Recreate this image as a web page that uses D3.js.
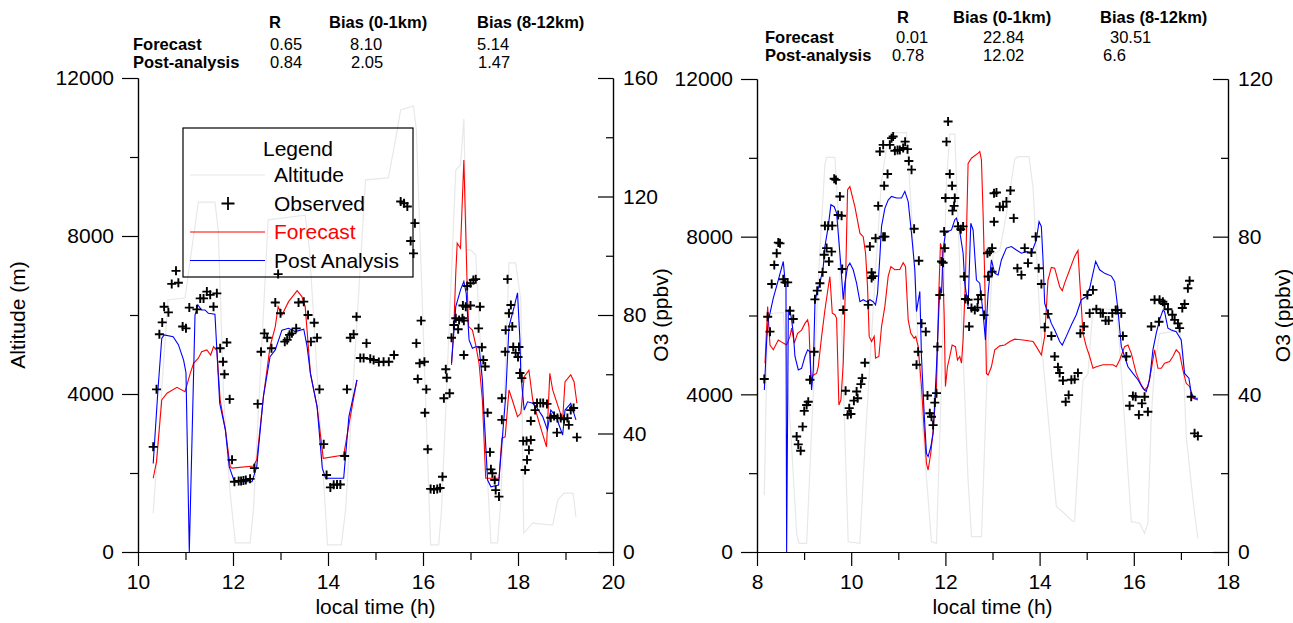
<!DOCTYPE html>
<html>
<head>
<meta charset="utf-8">
<script src="https://cdn.jsdelivr.net/npm/d3@7"></script>
<style>
  body { margin: 0; background: #fff; }
  svg text { font-family: "Liberation Sans", Arial, Helvetica, sans-serif; }
</style>
</head>
<body>
<svg id="chart" width="1293" height="623"></svg>
<script>
// ---- tick values ----
const altMajor = [0, 4000, 8000, 12000];
const altMinor = [2000, 6000, 10000];
const leftTimeMajor = [10, 12, 14, 16, 18, 20];
const leftTimeMinor = [11, 13, 15, 17, 19];
const rightTimeMajor = [8, 10, 12, 14, 16, 18];
const rightTimeMinor = [9, 11, 13, 15, 17];
const leftO3Major = [0, 40, 80, 120, 160];
const leftO3Minor = [20, 60, 100, 140];
const rightO3Major = [0, 40, 80, 120];
const rightO3Minor = [20, 60, 100];

// ---- statistics ----
const statHeaders = ["R", "Bias (0-1km)", "Bias (8-12km)"];
const statRows = ["Forecast", "Post-analysis"];
const leftStats = [["0.65", "8.10", "5.14"], ["0.84", "2.05", "1.47"]];
const rightStats = [["0.01", "22.84", "30.51"], ["0.78", "12.02", "6.6"]];

// ---- left flight: [local time (h), value] ----
const leftAltitude = [[10.32,980],[10.63,6380],[10.99,6430],[11.10,7390],[11.27,8860],[11.62,8860],[11.69,8150],[11.80,4020],[11.87,2670],[11.94,1490],[12.05,230],[12.36,230],[12.43,1060],[12.74,8410],[13.52,8530],[13.61,7650],[13.99,180],[14.28,180],[14.37,1060],[14.79,9420],[15.27,9470],[15.42,10430],[15.53,11190],[15.80,11290],[15.86,10690],[16.16,180],[16.33,180],[16.39,1060],[16.69,9670],[16.79,9800],[16.86,10960],[16.92,7650],[17.00,7650],[17.11,7520],[17.43,230],[17.57,230],[17.64,1320],[17.81,7320],[17.95,7320],[18.06,6380],[18.12,480],[18.31,730],[18.73,680],[18.84,1320],[18.97,1490],[19.16,1490],[19.22,890]];

const leftObserved = [[10.32,35.5],[10.39,54.9],[10.45,73.5],[10.51,77.5],[10.55,82.8],[10.64,80.9],[10.71,90.5],[10.80,94.9],[10.85,90.9],[10.94,76.1],[11.01,75.5],[11.08,82.5],[11.24,81.9],[11.31,85.6],[11.38,85.6],[11.45,87.9],[11.52,86.8],[11.59,82.8],[11.66,87.3],[11.73,68.8],[11.79,64.2],[11.82,60.0],[11.87,70.7],[11.93,51.6],[11.98,31.1],[12.03,23.7],[12.12,24.0],[12.17,24.0],[12.22,24.1],[12.27,24.3],[12.36,24.7],[12.45,28.3],[12.52,50.0],[12.59,67.6],[12.66,73.8],[12.72,72.3],[12.81,68.8],[12.89,84.2],[12.95,93.8],[13.00,80.6],[13.09,71.0],[13.14,71.6],[13.19,73.3],[13.24,73.8],[13.33,75.5],[13.38,84.2],[13.49,84.5],[13.58,80.0],[13.64,71.0],[13.71,77.4],[13.77,72.3],[13.82,54.9],[13.91,36.4],[13.97,26.0],[14.05,21.8],[14.12,22.7],[14.19,22.8],[14.26,22.8],[14.35,32.4],[14.40,54.9],[14.47,72.3],[14.54,73.5],[14.60,79.4],[14.81,70.5],[14.68,65.5],[14.75,65.5],[14.89,65.2],[14.96,64.8],[15.07,64.1],[15.17,64.2],[15.28,64.2],[15.39,66.5],[15.53,118.3],[15.60,117.7],[15.67,116.6],[15.83,111.0],[15.74,105.0],[15.80,100.8],[15.96,78.1],[15.86,70.5],[15.93,63.7],[16.03,64.2],[15.89,58.4],[16.07,54.9],[16.04,47.0],[16.10,34.7],[16.16,21.3],[16.23,21.1],[16.30,21.3],[16.36,21.6],[16.41,25.4],[16.44,51.9],[16.50,58.8],[16.48,61.7],[16.56,53.6],[16.60,72.3],[16.65,76.6],[16.69,78.9],[16.76,78.3],[16.83,78.9],[16.86,78.1],[16.74,75.2],[16.84,83.2],[16.90,82.8],[17.00,83.2],[16.86,66.5],[16.93,89.8],[17.00,90.7],[17.06,91.8],[17.11,92.1],[17.17,75.5],[17.20,82.8],[17.24,69.1],[17.27,64.8],[17.31,62.6],[17.36,47.0],[17.41,33.7],[17.43,27.9],[17.46,26.6],[17.51,24.3],[17.53,20.9],[17.60,18.7],[17.66,51.9],[17.66,44.6],[17.73,67.6],[17.74,74.9],[17.78,92.1],[17.81,80.6],[17.85,83.4],[17.88,76.1],[17.90,69.2],[17.95,67.2],[18.02,69.2],[18.00,65.8],[18.04,60.4],[18.08,58.7],[18.11,37.5],[18.18,37.5],[18.23,34.4],[18.19,31.1],[18.15,27.7],[18.27,37.8],[18.27,44.2],[18.36,47.9],[18.40,50.3],[18.47,50.3],[18.53,50.3],[18.61,50.0],[18.69,45.3],[18.76,45.9],[18.83,45.2],[18.90,45.2],[18.97,44.8],[19.04,45.2],[18.82,40.3],[19.07,42.9],[19.11,47.9],[19.17,48.6],[19.24,38.7]];

// null breaks the line (no model output in the gap)
const leftForecast = [[10.32,24.9],[10.39,30.5],[10.50,51.3],[10.61,53.6],[10.82,55.6],[10.99,54.1],[11.10,60.3],[11.17,63.7],[11.27,65.4],[11.34,67.6],[11.45,68.2],[11.53,66.5],[11.59,69.3],[11.66,68.0],[11.73,51.3],[11.84,41.2],[11.94,28.8],[11.98,28.3],[12.43,29.0],[12.50,31.1],[12.64,52.4],[12.78,69.3],[12.89,76.1],[12.95,82.8],[13.03,80.0],[13.17,84.5],[13.35,88.2],[13.45,86.2],[13.52,82.8],[13.63,60.3],[13.77,49.1],[13.90,31.6],[14.33,32.7],[14.47,45.7],[14.61,58.1],
  [15.5,null],
  [16.60,63.1],[16.65,76.1],[16.69,94.1],[16.72,104.2],[16.79,102.5],[16.86,132.3],[16.93,89.6],[16.96,76.1],[17.04,74.9],[17.11,69.9],[17.18,63.7],[17.25,51.3],[17.32,24.9],[17.60,24.9],[17.66,38.4],[17.73,38.9],[17.81,54.7],[17.88,51.3],[17.99,45.7],[18.06,46.8],[18.13,59.2],[18.23,61.4],[18.31,51.3],[18.45,43.4],[18.60,35.5],[18.67,60.3],[18.73,54.7],[18.87,47.9],[18.94,44.6],[18.99,57.5],[19.11,59.8],[19.18,57.5],[19.24,50.2]];

const leftPostAnalysis = [[10.32,29.9],[10.42,54.7],[10.50,72.1],[10.55,73.3],[10.74,72.7],[10.85,70.0],[10.96,64.8],[11.01,60.5],[11.08,0],[11.20,80.0],[11.26,83.4],[11.34,81.7],[11.41,81.7],[11.48,80.6],[11.62,80.3],[11.72,50.2],[11.84,41.2],[11.92,28.8],[12.03,23.7],[12.40,23.7],[12.50,28.8],[12.64,52.4],[12.78,65.9],[12.89,68.2],[13.03,74.9],[13.17,75.5],[13.31,74.4],[13.49,75.2],[13.56,69.3],[13.63,60.3],[13.77,49.1],[13.88,28.3],[13.95,24.9],[14.33,24.9],[14.44,45.7],[14.61,58.1],
  [15.5,null],
  [16.60,63.7],[16.69,82.8],[16.79,88.5],[16.86,91.3],[16.91,87.3],[16.97,71.6],[17.04,68.8],[17.11,69.3],[17.18,69.3],[17.25,58.1],[17.28,47.9],[17.36,24.3],[17.43,22.0],[17.59,22.6],[17.67,38.4],[17.74,52.4],[17.81,76.1],[17.92,82.8],[17.99,87.5],[18.04,71.6],[18.06,60.3],[18.13,47.9],[18.20,50.7],[18.31,50.2],[18.38,49.1],[18.52,45.7],[18.62,41.2],[18.69,47.9],[18.80,45.7],[18.94,39.5],[18.99,47.9],[19.11,50.2],[19.22,44.6]];

// ---- right flight ----
const rightAltitude = [[8.155,1440],[8.227,6040],[8.558,6080],[8.736,2670],[8.842,470],[8.891,220],[9.054,220],[9.160,3090],[9.300,6890],[9.442,9840],[9.478,10010],[9.654,10010],[9.724,8580],[9.830,4350],[9.936,260],[10.185,220],[10.291,2670],[10.503,6890],[10.645,9420],[10.751,10260],[10.857,10640],[11.175,10640],[11.281,8580],[11.493,3510],[11.705,260],[11.811,220],[11.917,4350],[12.023,9420],[12.093,10600],[12.199,10600],[12.342,6040],[12.481,1820],[12.554,390],[12.766,390],[12.906,5200],[13.012,7560],[13.154,7650],[13.296,8580],[13.472,9970],[13.542,10030],[13.775,10030],[13.860,9250],[14.002,6040],[14.072,4860],[14.356,1150],[14.469,1040],[14.708,770],[14.744,790],[14.808,2080],[14.920,4350],[15.027,4520],[15.133,6210],[15.635,6130],[15.698,5200],[15.947,770],[16.123,730],[16.229,470],[16.299,730],[16.371,3430],[16.441,4690],[16.547,5540],[16.971,5620],[17.041,5110],[17.114,2920],[17.219,1740],[17.290,980],[17.360,350]];

const rightObserved = [[8.155,43.9],[8.227,59.7],[8.276,55.9],[8.312,68.0],[8.367,72.8],[8.418,75.8],[8.452,78.5],[8.488,78.3],[8.558,69.2],[8.594,68.4],[8.651,68.4],[8.700,61.2],[8.770,59.1],[8.842,29.3],[8.876,27.3],[8.927,25.7],[8.969,31.8],[9.003,35.8],[9.054,37.3],[9.088,38.1],[9.124,43.7],[9.215,50.8],[9.230,64.1],[9.279,66.3],[9.336,68.2],[9.393,71.0],[9.427,75.4],[9.478,77.1],[9.527,73.7],[9.584,76.2],[9.442,82.8],[9.512,82.8],[9.597,82.8],[9.639,94.7],[9.676,94.4],[9.760,90.2],[9.724,85.5],[9.796,85.3],[9.809,71.8],[9.830,61.4],[9.881,40.9],[9.958,36.5],[9.924,34.8],[9.994,35.0],[10.057,38.4],[10.115,40.7],[10.136,39.0],[10.206,42.6],[10.233,44.1],[10.291,48.0],[10.361,62.7],[10.397,77.5],[10.433,70.9],[10.467,70.0],[10.433,69.5],[10.518,79.6],[10.573,87.8],[10.679,80.0],[10.715,80.0],[10.700,92.9],[10.772,95.9],[10.609,101.6],[10.679,103.3],[10.821,103.3],[10.857,105.0],[10.891,105.4],[10.927,101.8],[10.984,102.0],[11.033,102.0],[11.103,102.5],[11.145,104.1],[11.196,102.2],[11.224,99.2],[11.281,97.0],[11.336,82.0],[11.436,73.9],[11.493,58.0],[11.584,55.9],[11.421,50.8],[11.387,47.5],[11.620,39.7],[11.669,35.2],[11.705,34.3],[11.739,32.2],[11.775,37.9],[11.811,40.3],[11.832,52.1],[11.881,65.2],[11.917,73.7],[11.951,73.4],[11.973,81.3],[11.987,77.1],[12.023,104.1],[12.057,109.2],[12.002,89.8],[12.093,95.9],[12.142,92.9],[12.199,89.8],[12.185,87.8],[12.151,86.6],[12.269,82.6],[12.327,81.9],[12.376,82.6],[12.397,69.9],[12.426,64.2],[12.481,64.0],[12.503,57.2],[12.554,61.9],[12.624,61.4],[12.681,62.0],[12.694,64.1],[12.751,65.2],[12.821,60.1],[12.893,75.8],[12.942,76.2],[12.991,77.1],[12.906,69.9],[12.991,71.1],[13.033,91.0],[13.033,83.8],[13.084,91.2],[13.154,87.6],[13.224,87.6],[13.296,88.9],[13.381,91.7],[13.451,84.7],[13.529,72.0],[13.614,70.3],[13.684,77.1],[13.754,73.3],[13.826,76.0],[13.917,80.0],[13.981,72.0],[14.038,68.0],[14.178,60.4],[14.108,57.0],[14.250,54.8],[14.320,49.6],[14.390,46.9],[14.426,45.4],[14.496,43.5],[14.554,38.1],[14.617,39.8],[14.674,43.7],[14.744,43.8],[14.814,45.4],[14.865,55.5],[14.942,57.2],[15.014,65.2],[15.133,66.5],[15.063,60.6],[15.205,61.6],[15.296,60.6],[15.345,60.6],[15.402,58.7],[15.466,58.7],[15.544,60.6],[15.614,61.4],[15.650,61.4],[15.735,60.6],[15.769,54.8],[15.841,49.6],[15.911,37.1],[15.981,39.6],[16.038,39.4],[16.229,39.4],[16.108,34.8],[16.172,37.7],[16.299,35.6],[16.371,57.2],[16.441,64.0],[16.547,64.0],[16.617,63.5],[16.653,62.9],[16.535,58.4],[16.725,61.6],[16.818,60.2],[16.867,58.9],[16.937,58.0],[16.973,56.8],[17.030,61.9],[17.078,62.9],[17.148,66.9],[17.184,68.8],[17.219,39.4],[17.290,30.1],[17.360,29.4]];

const rightForecast = [[8.170,47.9],[8.226,62.3],[8.276,52.5],[8.346,51.3],[8.452,53.8],[8.558,53.0],[8.629,52.5],[8.700,54.7],[8.735,56.8],[8.792,53.0],[8.862,55.5],[8.947,56.3],[9.018,58.0],[9.075,58.9],[9.103,57.2],[9.145,43.7],[9.195,44.9],[9.265,45.3],[9.301,47.0],[9.372,54.7],[9.442,61.4],[9.513,67.3],[9.548,69.9],[9.598,60.6],[9.654,60.2],[9.690,59.3],[9.739,37.3],[9.782,38.6],[9.831,47.9],[9.881,69.0],[9.923,91.9],[9.972,92.7],[10.078,87.6],[10.185,80.9],[10.255,80.0],[10.305,75.8],[10.347,67.3],[10.382,54.7],[10.432,53.4],[10.488,54.7],[10.517,49.2],[10.587,49.6],[10.644,57.2],[10.715,62.3],[10.785,69.9],[10.842,72.4],[10.927,71.6],[11.033,71.7],[11.104,73.4],[11.153,72.4],[11.210,58.9],[11.266,55.5],[11.337,54.2],[11.372,54.7],[11.422,52.1],[11.492,42.0],[11.549,31.0],[11.598,22.5],[11.633,20.8],[11.690,25.0],[11.740,31.0],[11.811,42.0],[11.860,65.6],[11.895,78.3],[11.931,76.6],[11.973,60.6],[12.001,42.0],[12.044,47.0],[12.093,49.6],[12.143,52.5],[12.214,52.1],[12.256,48.7],[12.305,49.6],[12.341,47.9],[12.376,53.8],[12.425,69.0],[12.482,98.6],[12.553,99.9],[12.694,101.2],[12.730,101.6],[12.765,99.5],[12.800,86.0],[12.836,69.0],[12.871,45.3],[12.907,44.9],[12.977,47.0],[13.048,51.3],[13.154,52.3],[13.260,52.5],[13.366,53.4],[13.472,54.0],[13.649,53.8],[13.861,53.4],[13.931,52.1],[14.037,50.0],[14.108,54.7],[14.178,69.0],[14.249,72.2],[14.320,72.0],[14.426,67.3],[14.482,66.3],[14.532,68.2],[14.638,71.6],[14.744,75.0],[14.815,76.5],[14.851,69.0],[14.921,55.5],[14.992,52.1],[15.063,49.6],[15.133,46.6],[15.204,47.0],[15.346,47.5],[15.558,47.5],[15.628,47.0],[15.699,48.7],[15.805,52.1],[15.876,52.5],[15.947,50.4],[16.052,45.3],[16.158,42.4],[16.229,41.1],[16.300,42.0],[16.371,46.2],[16.441,51.3],[16.512,46.6],[16.583,46.6],[16.654,47.9],[16.760,48.3],[16.830,49.6],[16.901,51.3],[16.972,50.4],[17.042,46.2],[17.113,42.8],[17.184,42.0],[17.254,39.0],[17.360,38.6]];

const rightPostAnalysis = [[8.156,41.1],[8.205,53.8],[8.240,58.9],[8.276,60.6],[8.346,64.4],[8.452,69.0],[8.558,73.7],[8.594,69.0],[8.615,68.2],[8.629,0],[8.665,61.4],[8.700,61.4],[8.735,58.9],[8.771,55.5],[8.806,49.6],[8.877,46.2],[8.947,46.6],[9.018,49.6],[9.075,51.3],[9.124,50.8],[9.159,41.1],[9.195,46.2],[9.230,63.1],[9.265,65.6],[9.336,68.2],[9.407,72.4],[9.442,77.5],[9.513,82.6],[9.569,88.1],[9.640,87.6],[9.690,86.0],[9.725,80.9],[9.782,72.4],[9.831,64.0],[9.866,68.2],[9.923,72.4],[9.972,73.3],[10.043,71.6],[10.114,68.2],[10.185,63.5],[10.255,64.0],[10.326,63.5],[10.397,64.0],[10.467,63.5],[10.517,62.7],[10.559,65.6],[10.609,75.0],[10.644,82.6],[10.715,87.2],[10.785,89.3],[10.856,90.2],[10.962,89.8],[11.068,89.8],[11.139,91.5],[11.210,88.9],[11.280,80.9],[11.351,71.6],[11.386,61.0],[11.457,66.1],[11.492,49.6],[11.549,35.2],[11.598,25.0],[11.633,24.2],[11.690,26.7],[11.740,30.1],[11.811,47.0],[11.881,67.3],[11.917,65.6],[11.952,76.6],[12.001,80.9],[12.058,81.3],[12.129,81.7],[12.199,84.3],[12.235,84.7],[12.305,81.3],[12.376,75.8],[12.411,68.2],[12.482,62.3],[12.539,83.4],[12.588,81.7],[12.659,69.0],[12.729,68.2],[12.800,60.6],[12.850,53.8],[12.906,65.6],[12.977,74.1],[13.048,70.7],[13.119,70.3],[13.189,74.1],[13.295,77.1],[13.401,77.5],[13.507,76.6],[13.613,75.8],[13.719,76.2],[13.825,75.8],[13.931,79.2],[13.988,83.8],[14.037,82.6],[14.073,74.1],[14.108,63.1],[14.178,60.6],[14.249,58.0],[14.320,56.3],[14.426,53.4],[14.482,52.5],[14.567,54.7],[14.673,57.6],[14.779,60.2],[14.885,64.0],[14.992,64.8],[15.063,66.9],[15.133,70.7],[15.190,73.7],[15.275,71.6],[15.381,70.7],[15.523,70.0],[15.593,68.6],[15.664,61.4],[15.735,52.1],[15.805,49.6],[15.876,47.0],[15.982,45.3],[16.088,43.7],[16.194,41.5],[16.264,40.7],[16.335,43.7],[16.406,51.3],[16.477,55.5],[16.547,58.9],[16.618,61.3],[16.653,61.0],[16.724,56.8],[16.795,56.3],[16.901,55.9],[17.007,53.8],[17.078,45.3],[17.170,44.1],[17.219,40.3],[17.290,39.0],[17.360,39.0]];

// ---- layout ----
const svg = d3.select("#chart");
const FONT = 21;
const ALT_GREY = "#e8e8e8";

const panels = [
  {
    left: 138, right: 613, top: 78, bottom: 552,
    xDomain: [10, 20], o3Domain: [0, 160],
    timeMajor: leftTimeMajor, timeMinor: leftTimeMinor,
    o3Major: leftO3Major, o3Minor: leftO3Minor,
    altitude: leftAltitude, observed: leftObserved,
    forecast: leftForecast, post: leftPostAnalysis,
    stats: leftStats,
    statPos: { labelX: 133, headerX: [269, 329, 477], cellX: [[270, 350, 477], [270, 351, 478]], rowY: [28, 50, 68] },
    altLabel: true, legend: true, o3LabelX: 661
  },
  {
    left: 757, right: 1228, top: 79, bottom: 552,
    xDomain: [8, 18], o3Domain: [0, 120],
    timeMajor: rightTimeMajor, timeMinor: rightTimeMinor,
    o3Major: rightO3Major, o3Minor: rightO3Minor,
    altitude: rightAltitude, observed: rightObserved,
    forecast: rightForecast, post: rightPostAnalysis,
    stats: rightStats,
    statPos: { labelX: 765, headerX: [897, 953, 1100], cellX: [[896, 983, 1110], [892, 983, 1103]], rowY: [23, 43, 61] },
    altLabel: false, legend: false, o3LabelX: 1283
  }
];

const plusPath = s => `M${-s},0H${s}M0,${-s}V${s}`;

function styleAxis(g) {
  g.attr("font-size", FONT).attr("font-family", null);
  g.selectAll(".domain").attr("stroke", "#000").attr("stroke-width", 1.2);
  g.selectAll(".tick line").attr("stroke", "#000").attr("stroke-width", 1.2);
  g.selectAll(".tick text").attr("fill", "#000");
}

function drawPanel(p) {
  const x = d3.scaleLinear().domain(p.xDomain).range([p.left, p.right]);
  const yAlt = d3.scaleLinear().domain([0, 12000]).range([p.bottom, p.top]);
  const yO3 = d3.scaleLinear().domain(p.o3Domain).range([p.bottom, p.top]);
  const g = svg.append("g");

  // Altitude (light grey, left axis)
  g.append("path")
    .datum(p.altitude)
    .attr("d", d3.line().x(d => x(d[0])).y(d => yAlt(d[1])))
    .attr("fill", "none")
    .attr("stroke", ALT_GREY)
    .attr("stroke-width", 1.2);

  const o3Line = d3.line()
    .defined(d => d[1] != null)
    .x(d => x(d[0]))
    .y(d => yO3(d[1]));

  g.append("path").datum(p.forecast).attr("d", o3Line)
    .attr("fill", "none").attr("stroke", "#ff0000").attr("stroke-width", 1.1);
  g.append("path").datum(p.post).attr("d", o3Line)
    .attr("fill", "none").attr("stroke", "#0000ff").attr("stroke-width", 1.1);

  // Observed crosses
  g.selectAll(".obs").data(p.observed).enter().append("path")
    .attr("class", "obs")
    .attr("transform", d => `translate(${x(d[0])},${yO3(d[1])})`)
    .attr("d", plusPath(4.5))
    .attr("stroke", "#000")
    .attr("stroke-width", 1.9)
    .attr("fill", "none");

  // Axes
  const fmt = d3.format("d");
  g.append("g").attr("transform", `translate(${p.left},0)`)
    .call(d3.axisLeft(yAlt).tickValues(altMinor).tickSize(8).tickSizeOuter(0).tickFormat(""))
    .call(styleAxis);
  g.append("g").attr("transform", `translate(${p.left},0)`)
    .call(d3.axisLeft(yAlt).tickValues(altMajor).tickSize(16).tickPadding(8).tickSizeOuter(0).tickFormat(fmt))
    .call(styleAxis);

  g.append("g").attr("transform", `translate(${p.right},0)`)
    .call(d3.axisRight(yO3).tickValues(p.o3Minor).tickSize(-7).tickSizeOuter(0).tickFormat(""))
    .call(styleAxis);
  g.append("g").attr("transform", `translate(${p.right},0)`)
    .call(d3.axisRight(yO3).tickValues(p.o3Major).tickSize(-15).tickPadding(10).tickSizeOuter(0).tickFormat(fmt))
    .call(styleAxis);

  g.append("g").attr("transform", `translate(0,${p.bottom})`)
    .call(d3.axisBottom(x).tickValues(p.timeMinor).tickSize(8).tickSizeOuter(0).tickFormat(""))
    .call(styleAxis);
  g.append("g").attr("transform", `translate(0,${p.bottom})`)
    .call(d3.axisBottom(x).tickValues(p.timeMajor).tickSize(14).tickPadding(8).tickSizeOuter(0).tickFormat(fmt))
    .call(styleAxis);

  // Axis titles
  const midY = (p.top + p.bottom) / 2;
  g.append("text")
    .attr("x", (p.left + p.right) / 2).attr("y", 614)
    .attr("text-anchor", "middle").attr("font-size", FONT)
    .text("local time (h)");
  g.append("text")
    .attr("transform", `translate(${p.o3LabelX},${midY}) rotate(-90)`)
    .attr("text-anchor", "middle").attr("dy", "0.35em").attr("font-size", FONT)
    .text("O3 (ppbv)");
  if (p.altLabel) {
    g.append("text")
      .attr("transform", `translate(18,${midY}) rotate(-90)`)
      .attr("text-anchor", "middle").attr("dy", "0.35em").attr("font-size", FONT)
      .text("Altitude (m)");
  }

  // Statistics table
  const sp = p.statPos;
  const st = g.append("g").attr("font-size", 16.5);
  statHeaders.forEach((h, i) => {
    st.append("text").attr("x", sp.headerX[i]).attr("y", sp.rowY[0])
      .attr("font-weight", "bold").text(h);
  });
  statRows.forEach((r, j) => {
    st.append("text").attr("x", sp.labelX).attr("y", sp.rowY[j + 1])
      .attr("font-weight", "bold").text(r);
    p.stats[j].forEach((v, i) => {
      st.append("text").attr("x", sp.cellX[j][i]).attr("y", sp.rowY[j + 1]).text(v);
    });
  });

  if (p.legend) drawLegend(g);
}

function drawLegend(g) {
  const lg = g.append("g");
  lg.append("rect")
    .attr("x", 183).attr("y", 128).attr("width", 230).attr("height", 149)
    .attr("fill", "none").attr("stroke", "#000").attr("stroke-width", 1.2);
  lg.append("text").attr("x", 298).attr("y", 156)
    .attr("text-anchor", "middle").attr("font-size", FONT).text("Legend");

  const items = [
    { name: "Altitude", color: ALT_GREY, text: "#000", type: "line" },
    { name: "Observed", color: "#000", text: "#000", type: "plus" },
    { name: "Forecast", color: "#ff0000", text: "#ff0000", type: "line" },
    { name: "Post Analysis", color: "#0000ff", text: "#000", type: "line" }
  ];
  items.forEach((it, i) => {
    const cy = 175 + i * 28.5;
    if (it.type === "line") {
      lg.append("line").attr("x1", 190).attr("x2", 265).attr("y1", cy).attr("y2", cy)
        .attr("stroke", it.color).attr("stroke-width", 1.2);
    } else {
      lg.append("path").attr("transform", `translate(228,${cy})`)
        .attr("d", plusPath(6.5)).attr("stroke", it.color).attr("stroke-width", 1.8);
    }
    lg.append("text").attr("x", 274).attr("y", cy + 7)
      .attr("font-size", FONT).attr("fill", it.text).text(it.name);
  });
}

panels.forEach(drawPanel);
</script>
</body>
</html>
